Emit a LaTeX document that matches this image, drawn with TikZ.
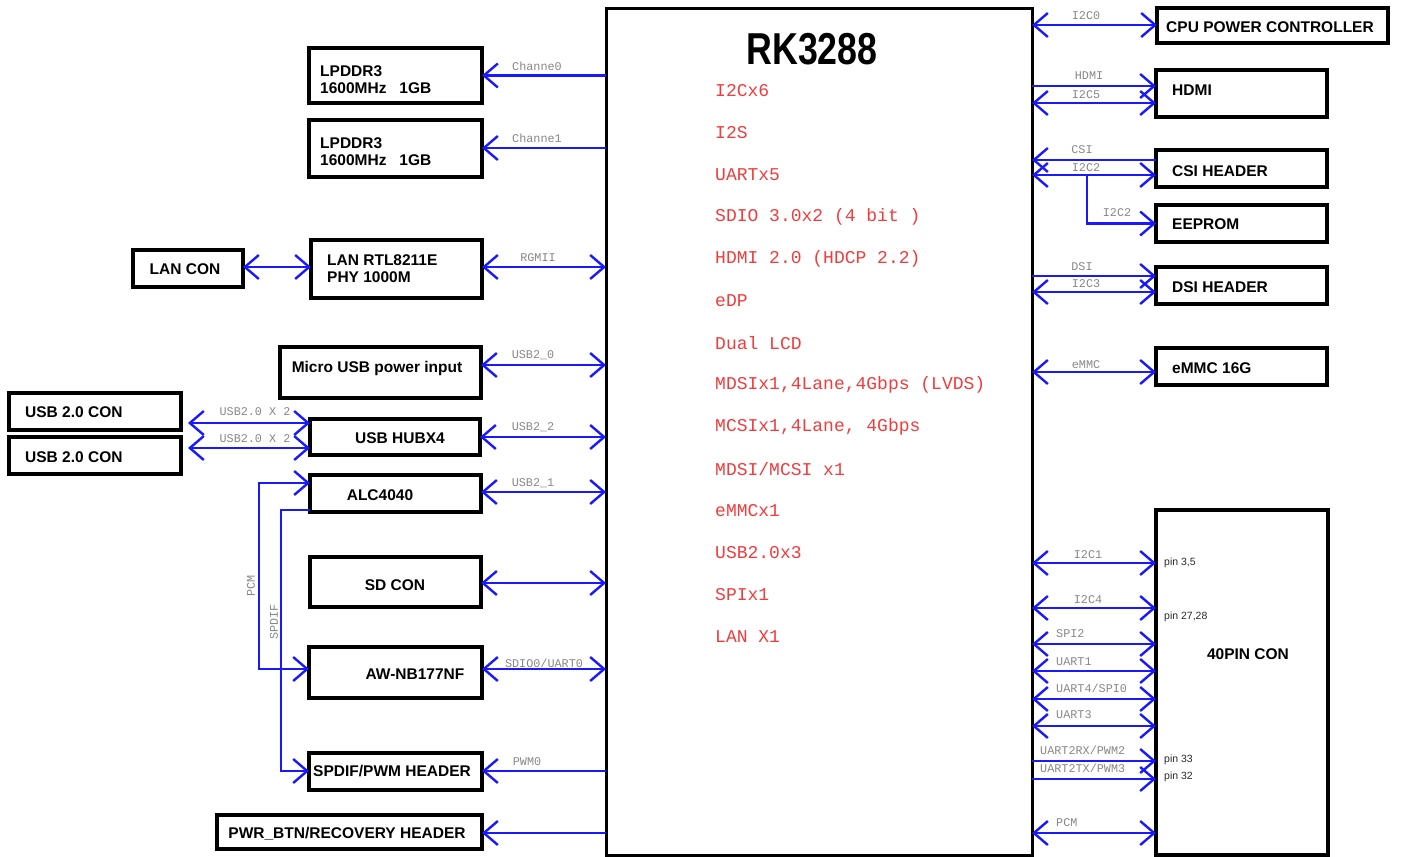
\documentclass[tikz,border=0pt]{standalone}
\usepackage{fontspec}
\usepackage{graphicx}
\setmainfont{Liberation Sans}
\newfontfamily\monof{Liberation Mono}
\usetikzlibrary{arrows.meta,calc}
\definecolor{wireblue}{RGB}{25,25,255}
\definecolor{lblgray}{RGB}{135,135,135}
\definecolor{featred}{RGB}{240,60,60}
\definecolor{pintxt}{RGB}{40,40,40}
\tikzset{
  box/.style={draw=black, line width=3.6pt, inner sep=0pt, outer sep=0pt, anchor=north west, fill=white},
  chipbox/.style={draw=black, line width=3pt, inner sep=0pt, outer sep=0pt, anchor=north west},
  btxt/.style={font=\fontsize{15.5}{17}\selectfont\bfseries, inner sep=0pt, align=left},
  sig/.style={font=\monof\fontsize{11.8}{12}\selectfont, text=lblgray, inner sep=0pt},
  feat/.style={font=\monof\fontsize{18}{18}\selectfont, text=featred, inner sep=0pt, anchor=west},
  pin/.style={font=\fontsize{10.5}{11}\selectfont, text=pintxt, inner sep=0pt, anchor=west},
  wire/.style={draw=wireblue, line width=2.4pt},
  bi/.style={wire, {Straight Barb[length=14pt,width=24pt]}-{Straight Barb[length=14pt,width=24pt]}},
  uni/.style={wire, -{Straight Barb[length=14pt,width=24pt]}}
}
\begin{document}
\begin{tikzpicture}[x=1pt,y=-1pt]
\useasboundingbox (0,0) rectangle (1401,857);

% central chip
\node[chipbox, minimum width=426pt, minimum height=847pt] (chip) at (606,8) {};
\node[inner sep=0pt, font=\fontsize{44.7}{46}\selectfont\bfseries] (title) at (812,49) {\scalebox{0.8}[1]{RK3288}};
\node[feat] (f1) at (715,91) {I2Cx6};
\node[feat] (f2) at (715,133) {I2S};
\node[feat] (f3) at (715,175) {UARTx5};
\node[feat] (f4) at (715,217) {SDIO 3.0x2 (4 bit )};
\node[feat] (f5) at (715,259) {HDMI 2.0 (HDCP 2.2)};
\node[feat] (f6) at (715,301) {eDP};
\node[feat] (f7) at (715,343) {Dual LCD};
\node[feat] (f8) at (715,385) {MDSIx1,4Lane,4Gbps (LVDS)};
\node[feat] (f9) at (715,427) {MCSIx1,4Lane, 4Gbps};
\node[feat] (f10) at (715,469) {MDSI/MCSI x1};
\node[feat] (f11) at (715,511) {eMMCx1};
\node[feat] (f12) at (715,553) {USB2.0x3};
\node[feat] (f13) at (715,595) {SPIx1};
\node[feat] (f14) at (715,637) {LAN X1};

% left boxes
\node[box, minimum width=173pt, minimum height=55pt] (ddr1) at (309,48) {};
\node[btxt, anchor=west] (ddr1t) at (320,80) {LPDDR3\\1600MHz\ \ \ 1GB};
\node[box, minimum width=173pt, minimum height=57pt] (ddr2) at (309,120) {};
\node[btxt, anchor=west] (ddr2t) at (320,151.5) {LPDDR3\\1600MHz\ \ \ 1GB};
\node[box, minimum width=110pt, minimum height=37pt] (lancon) at (133,250) {};
\node[btxt] (lancont) at (185,269) {LAN CON};
\node[box, minimum width=171pt, minimum height=58pt] (lanphy) at (311,240) {};
\node[btxt, anchor=west] (lanphyt) at (327,269) {LAN RTL8211E\\PHY 1000M};
\node[box, minimum width=201pt, minimum height=51pt] (microusb) at (280,347) {};
\node[btxt] (microusbt) at (377,368) {Micro USB power input};
\node[box, minimum width=172pt, minimum height=37pt] (usbcon1) at (9,393) {};
\node[btxt, anchor=west] (usbcon1t) at (25,412) {USB 2.0 CON};
\node[box, minimum width=172pt, minimum height=37pt] (usbcon2) at (9,437) {};
\node[btxt, anchor=west] (usbcon2t) at (25,457) {USB 2.0 CON};
\node[box, minimum width=170pt, minimum height=36pt] (hub) at (310,419) {};
\node[btxt] (hubt) at (400,438) {USB HUBX4};
\node[box, minimum width=171pt, minimum height=37pt] (alc) at (310,475) {};
\node[btxt] (alct) at (380,495) {ALC4040};
\node[box, minimum width=171pt, minimum height=50pt] (sdcon) at (310,557) {};
\node[btxt] (sdcont) at (395,585) {SD CON};
\node[box, minimum width=173pt, minimum height=51pt] (awnb) at (309,647) {};
\node[btxt] (awnbt) at (415,674) {AW-NB177NF};
\node[box, minimum width=173pt, minimum height=37pt] (spdif) at (309,753) {};
\node[btxt] (spdift) at (392,771) {SPDIF/PWM HEADER};
\node[box, minimum width=265pt, minimum height=34pt] (pwr) at (217,815) {};
\node[btxt] (pwrt) at (347,834) {PWR\_BTN/RECOVERY HEADER};

% right boxes
\node[box, minimum width=231pt, minimum height=35pt] (cpupwr) at (1157,8) {};
\node[btxt] (cpupwrt) at (1270,27) {CPU POWER CONTROLLER};
\node[box, minimum width=171pt, minimum height=47pt] (hdmi) at (1156,70) {};
\node[btxt, anchor=west] (hdmit) at (1172,90) {HDMI};
\node[box, minimum width=171pt, minimum height=37pt] (csi) at (1156,150) {};
\node[btxt, anchor=west] (csit) at (1172,171) {CSI HEADER};
\node[box, minimum width=171pt, minimum height=37pt] (eeprom) at (1156,205) {};
\node[btxt, anchor=west] (eepromt) at (1172,224) {EEPROM};
\node[box, minimum width=171pt, minimum height=37pt] (dsi) at (1156,267) {};
\node[btxt, anchor=west] (dsit) at (1172,287) {DSI HEADER};
\node[box, minimum width=171pt, minimum height=37pt] (emmc) at (1156,348) {};
\node[btxt, anchor=west] (emmct) at (1172,368) {eMMC 16G};
\node[box, minimum width=172pt, minimum height=345pt] (pin40) at (1156,510) {};
\node[btxt] (pin40t) at (1248,654) {40PIN CON};
\node[pin] (p1) at (1164,563) {pin 3,5};
\node[pin] (p2) at (1164,617) {pin 27,28};
\node[pin] (p3) at (1164,760) {pin 33};
\node[pin] (p4) at (1164,777) {pin 32};

% left connectors
\draw[uni] (chip.west |- ddr1.east) -- (ddr1.east);
\node[sig] (l1) at (537,66) {Channe0};
\draw[uni] (chip.west |- 0,148) -- (ddr2.east |- 0,148);
\node[sig] (l2) at (537,138) {Channe1};
\draw[bi] (lancon.east |- 0,267) -- (lanphy.west |- 0,267);
\draw[bi] (lanphy.east |- 0,267) -- (chip.west |- 0,267);
\node[sig] (l3) at (538,258) {RGMII};
\draw[bi] (microusb.east |- 0,365) -- (chip.west |- 0,365);
\node[sig] (l4) at (533,355) {USB2\_0};
\coordinate (hubl1) at (188,423);
\coordinate (hubl2) at (188,448);
\draw[bi] (hubl1) -- (hub.west |- hubl1);
\draw[bi] (hubl2) -- (hub.west |- hubl2);
\node[sig] (l5) at (255,412) {USB2.0 X 2};
\node[sig] (l6) at (255,439) {USB2.0 X 2};
\draw[bi] (hub.east |- 0,437) -- (chip.west |- 0,437);
\node[sig] (l7) at (533,427) {USB2\_2};
\draw[bi] (alc.east |- 0,492) -- (chip.west |- 0,492);
\node[sig] (l8) at (533,483) {USB2\_1};
\draw[bi] (sdcon.east |- 0,583) -- (chip.west |- 0,583);
\draw[bi] (awnb.east |- 0,669) -- (chip.west |- 0,669);
\node[sig] (l9) at (544,663) {SDIO0/UART0};
\draw[uni] (chip.west |- 0,771) -- (spdif.east |- 0,771);
\node[sig] (l10) at (527,762) {PWM0};
\draw[uni] (chip.west |- 0,833) -- (pwr.east |- 0,833);
% PCM / SPDIF routes
\coordinate (pcmc) at (259,483);
\coordinate (spdc) at (281,510);
\draw[bi] (alc.west |- pcmc) -- (pcmc) |- (awnb.west |- 0,669);
\draw[uni] (alc.west |- spdc) -- (spdc) |- (spdif.west |- 0,771);
\node[sig, rotate=90] (l11) at (251,586) {PCM};
\node[sig, rotate=90] (l12) at (274,622) {SPDIF};

% right connectors
\draw[bi] (chip.east |- 0,25) -- (cpupwr.west |- 0,25);
\node[sig] (r1) at (1086,16) {I2C0};
\draw[uni] (chip.east |- 0,86) -- (hdmi.west |- 0,86);
\node[sig] (r2) at (1089,76) {HDMI};
\draw[bi] (chip.east |- 0,103) -- (hdmi.west |- 0,103);
\node[sig] (r3) at (1086,95) {I2C5};
\draw[uni] (csi.west |- 0,160) -- (chip.east |- 0,160);
\node[sig] (r4) at (1082,150) {CSI};
\draw[bi] (chip.east |- 0,175) -- (csi.west |- 0,175);
\node[sig] (r5) at (1086,168) {I2C2};
\coordinate (br) at (1087,175);
\draw[uni] (br) |- (eeprom.west);
\node[sig] (r6) at (1117,213) {I2C2};
\draw[uni] (chip.east |- 0,276) -- (dsi.west |- 0,276);
\node[sig] (r7) at (1082,267) {DSI};
\draw[bi] (chip.east |- 0,292) -- (dsi.west |- 0,292);
\node[sig] (r8) at (1086,284) {I2C3};
\draw[bi] (chip.east |- 0,372) -- (emmc.west |- 0,372);
\node[sig] (r9) at (1086,365) {eMMC};

\draw[bi] (chip.east |- 0,563) -- (pin40.west |- 0,563);
\node[sig] (s1) at (1088,555) {I2C1};
\draw[bi] (chip.east |- 0,608) -- (pin40.west |- 0,608);
\node[sig] (s2) at (1088,600) {I2C4};
\draw[bi] (chip.east |- 0,644) -- (pin40.west |- 0,644);
\node[sig, anchor=west] (s3) at (1056,634) {SPI2};
\draw[bi] (chip.east |- 0,671) -- (pin40.west |- 0,671);
\node[sig, anchor=west] (s4) at (1056,662) {UART1};
\draw[bi] (chip.east |- 0,699) -- (pin40.west |- 0,699);
\node[sig, anchor=west] (s5) at (1056,688) {UART4/SPI0};
\draw[bi] (chip.east |- 0,726) -- (pin40.west |- 0,726);
\node[sig, anchor=west] (s6) at (1056,715) {UART3};
\draw[uni] (chip.east |- 0,761) -- (pin40.west |- 0,761);
\node[sig, anchor=west] (s7) at (1040,750) {UART2RX/PWM2};
\draw[uni] (chip.east |- 0,779) -- (pin40.west |- 0,779);
\node[sig, anchor=west] (s8) at (1040,768) {UART2TX/PWM3};
\draw[bi] (chip.east |- 0,833) -- (pin40.west |- 0,833);
\node[sig, anchor=west] (s9) at (1056,823) {PCM};
\end{tikzpicture}
\end{document}
